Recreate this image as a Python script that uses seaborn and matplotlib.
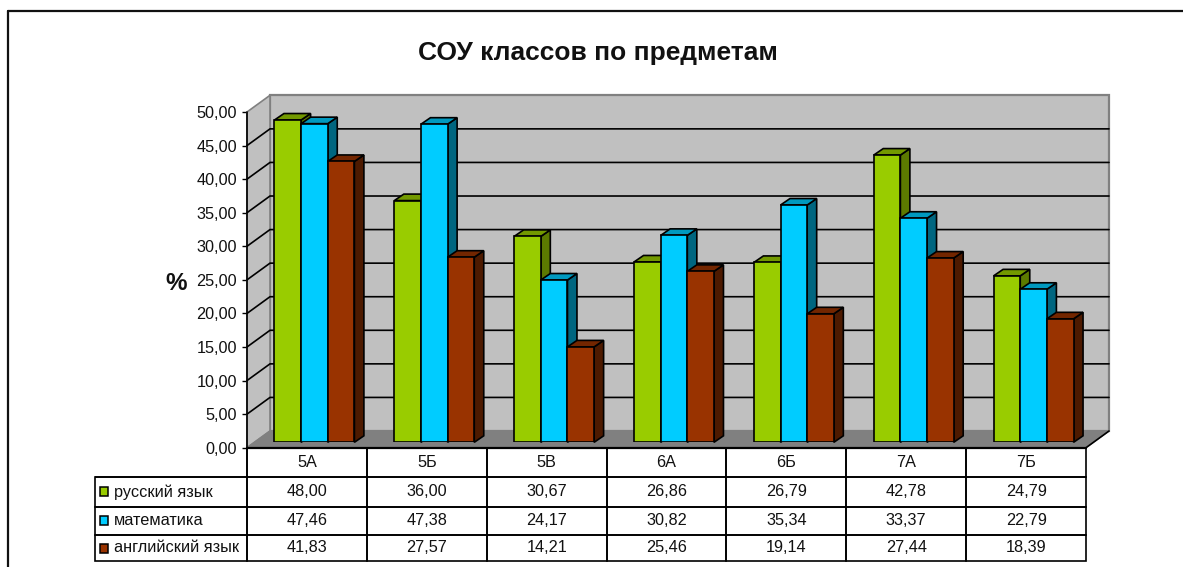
import matplotlib
matplotlib.use("Agg")
import matplotlib.pyplot as plt
from matplotlib.patches import Polygon, Rectangle
from matplotlib.lines import Line2D
import pandas as pd
import seaborn as sns

# ---- data ----
classes = ["5А", "5Б", "5В", "6А", "6Б", "7А", "7Б"]
russian = [48.00, 36.00, 30.67, 26.86, 26.79, 42.78, 24.79]
math_ = [47.46, 47.38, 24.17, 30.82, 35.34, 33.37, 22.79]
english = [41.83, 27.57, 14.21, 25.46, 19.14, 27.44, 18.39]
series_names = ["русский язык", "математика", "английский язык"]
y_ticks = [0, 5, 10, 15, 20, 25, 30, 35, 40, 45, 50]
title = "СОУ классов по предметам"

# ---- style ----
front_cols = ["#99CC00", "#00CCFF", "#993300"]
top_cols = ["#739900", "#0099BF", "#732600"]
side_cols = ["#5C7A00", "#006680", "#4D1A00"]
WALL, FLOOR, INK = "#C0C0C0", "#808080", "#000000"
W, H = 1183, 567
FS = 11.7
LW = 1.2

sns.set_style("white")
plt.rcParams["font.family"] = ["Liberation Sans", "DejaVu Sans"]
fig = plt.figure(figsize=(W / 100, H / 100), dpi=100, facecolor="white")


def px_axes(x0, y0, x1, y1, **kw):
    return fig.add_axes([x0 / W, 1 - y1 / H, (x1 - x0) / W, (y1 - y0) / H], **kw)


# chart frame
fig.add_artist(Line2D([8 / W, 8 / W], [0, 1 - 11 / H], color="#111111", lw=1.6))
fig.add_artist(Line2D([8 / W, 1], [1 - 11 / H, 1 - 11 / H], color="#111111", lw=1.6))

# axes holding walls, ticks and grid (front plane of the box)
XL, XR, YT, YB = 247, 1086, 112, 447.7
front = px_axes(XL, YT, XR, YB, zorder=1)
front.set_xlim(-0.5, len(classes) - 0.5)
front.set_ylim(0, 50)
front.patch.set_visible(False)
sx = len(classes) / (XR - XL)  # data units per pixel
sy = 50 / (YB - YT)
DX, DY = 23 * sx, 16.7 * sy
x0, x1 = -0.5, len(classes) - 0.5

front.add_patch(Polygon([(x0 + DX, DY), (x1 + DX, DY), (x1 + DX, 50 + DY), (x0 + DX, 50 + DY)],
                        fc=WALL, ec=FLOOR, lw=1.6, clip_on=False, zorder=0.5))
front.add_patch(Polygon([(x0, 0), (x0 + DX, DY), (x0 + DX, 50 + DY), (x0, 50)],
                        fc=WALL, ec=FLOOR, lw=1.2, clip_on=False, zorder=0.6))
front.add_patch(Polygon([(x0, 0), (x1, 0), (x1 + DX, DY), (x0 + DX, DY)],
                        fc=FLOOR, ec=FLOOR, lw=1.0, clip_on=False, zorder=0.7))
for v in y_ticks[1:-1]:
    front.plot([x0, x0 + DX, x1 + DX], [v, v + DY, v + DY], color=INK, lw=LW,
               clip_on=False, zorder=0.8, solid_joinstyle="miter")
front.plot([x1, x1 + DX], [0, DY], color=INK, lw=LW, clip_on=False, zorder=0.9)
front.plot([x0, x1], [0, 0], color=INK, lw=1.6, clip_on=False, zorder=0.9)
front.plot([x0, x0], [0, 50], color=INK, lw=LW, clip_on=False, zorder=0.9)

sns.despine(ax=front, left=True, bottom=True)
front.set_xticks([])
front.set_yticks(y_ticks)
front.set_yticklabels([f"{v:.2f}".replace(".", ",") for v in y_ticks], fontsize=FS, color="#111111")
front.tick_params(axis="y", left=True, length=3.6, width=1.0, color=INK, pad=3.5)
front.grid(False)

# bars: plane is shifted into the box
BSX, BSY = 7.5, 5.4
bars = px_axes(XL + BSX, YT - BSY, XR + BSX, YB - BSY, zorder=2)
bars.patch.set_visible(False)
df = pd.DataFrame({
    "class": classes * 3,
    "subject": [s for s in series_names for _ in classes],
    "value": russian + math_ + english,
})
sns.barplot(data=df, x="class", y="value", hue="subject", order=classes,
            hue_order=series_names, palette=front_cols, width=0.667, gap=0,
            saturation=1, legend=False, edgecolor=INK, linewidth=LW, ax=bars)
bars.set_xlim(x0, x1)
bars.set_ylim(0, 50)
bars.axis("off")

ddx, ddy = 9.5 * sx, 6.5 * sy
for n, p in enumerate(bars.patches):
    s = n // len(classes)
    c = n % len(classes)
    z = 3 + c * 10 + s * 3
    xa, w, h = p.get_x(), p.get_width(), p.get_height()
    xb = xa + w
    p.set_zorder(z + 2)
    bars.add_patch(Polygon([(xb, 0), (xb + ddx, ddy), (xb + ddx, h + ddy), (xb, h)],
                           fc=side_cols[s], ec=INK, lw=LW, clip_on=False, zorder=z))
    bars.add_patch(Polygon([(xa, h), (xb, h), (xb + ddx, h + ddy), (xa + ddx, h + ddy)],
                           fc=top_cols[s], ec=INK, lw=LW, clip_on=False, zorder=z + 1))

# overlay for text and data table
ov = px_axes(0, 0, W, H, zorder=3)
ov.set_xlim(0, W)
ov.set_ylim(H, 0)
ov.axis("off")

ov.text(598, 53, title, ha="center", va="center", fontsize=19, fontweight="bold", color="#111111")
ov.text(176, 284, "%", ha="center", va="center", fontsize=17.5, fontweight="bold", color="#111111")

TL = 95
rows_y = [447.7, 477, 506.7, 534.7, 561.3]
label_w = XL - TL
col_w = (XR - XL) / len(classes)
fmt = lambda v: f"{v:.2f}".replace(".", ",")
cells = [[""] + classes]
for name, vals in zip(series_names, [russian, math_, english]):
    cells.append([name] + [fmt(v) for v in vals])
tb = ov.table(cellText=cells, cellLoc="center",
              bbox=[TL / W, 1 - rows_y[-1] / H, (XR - TL) / W, (rows_y[-1] - rows_y[0]) / H])
tb.auto_set_font_size(False)
for (r, c), cell in tb.get_celld().items():
    cell.set_width(label_w if c == 0 else col_w)
    cell.set_height(rows_y[r + 1] - rows_y[r])
    cell.set_linewidth(LW)
    cell.set_edgecolor(INK)
    cell.set_facecolor("none")
    cell.get_text().set_fontsize(FS)
    cell.get_text().set_color("#111111")
    if c == 0:
        cell.PAD = 19 / label_w
        cell.get_text().set_ha("left")
        cell._loc = "left"
    if r == 0 and c == 0:
        cell.visible_edges = "BR"

for i, col in enumerate(front_cols):
    yc = (rows_y[i + 1] + rows_y[i + 2]) / 2
    ov.add_patch(Rectangle((100, yc - 4.5), 8.5, 9, fc=col, ec=INK, lw=1.1))

fig.savefig("out.png", dpi=100, facecolor="white")
